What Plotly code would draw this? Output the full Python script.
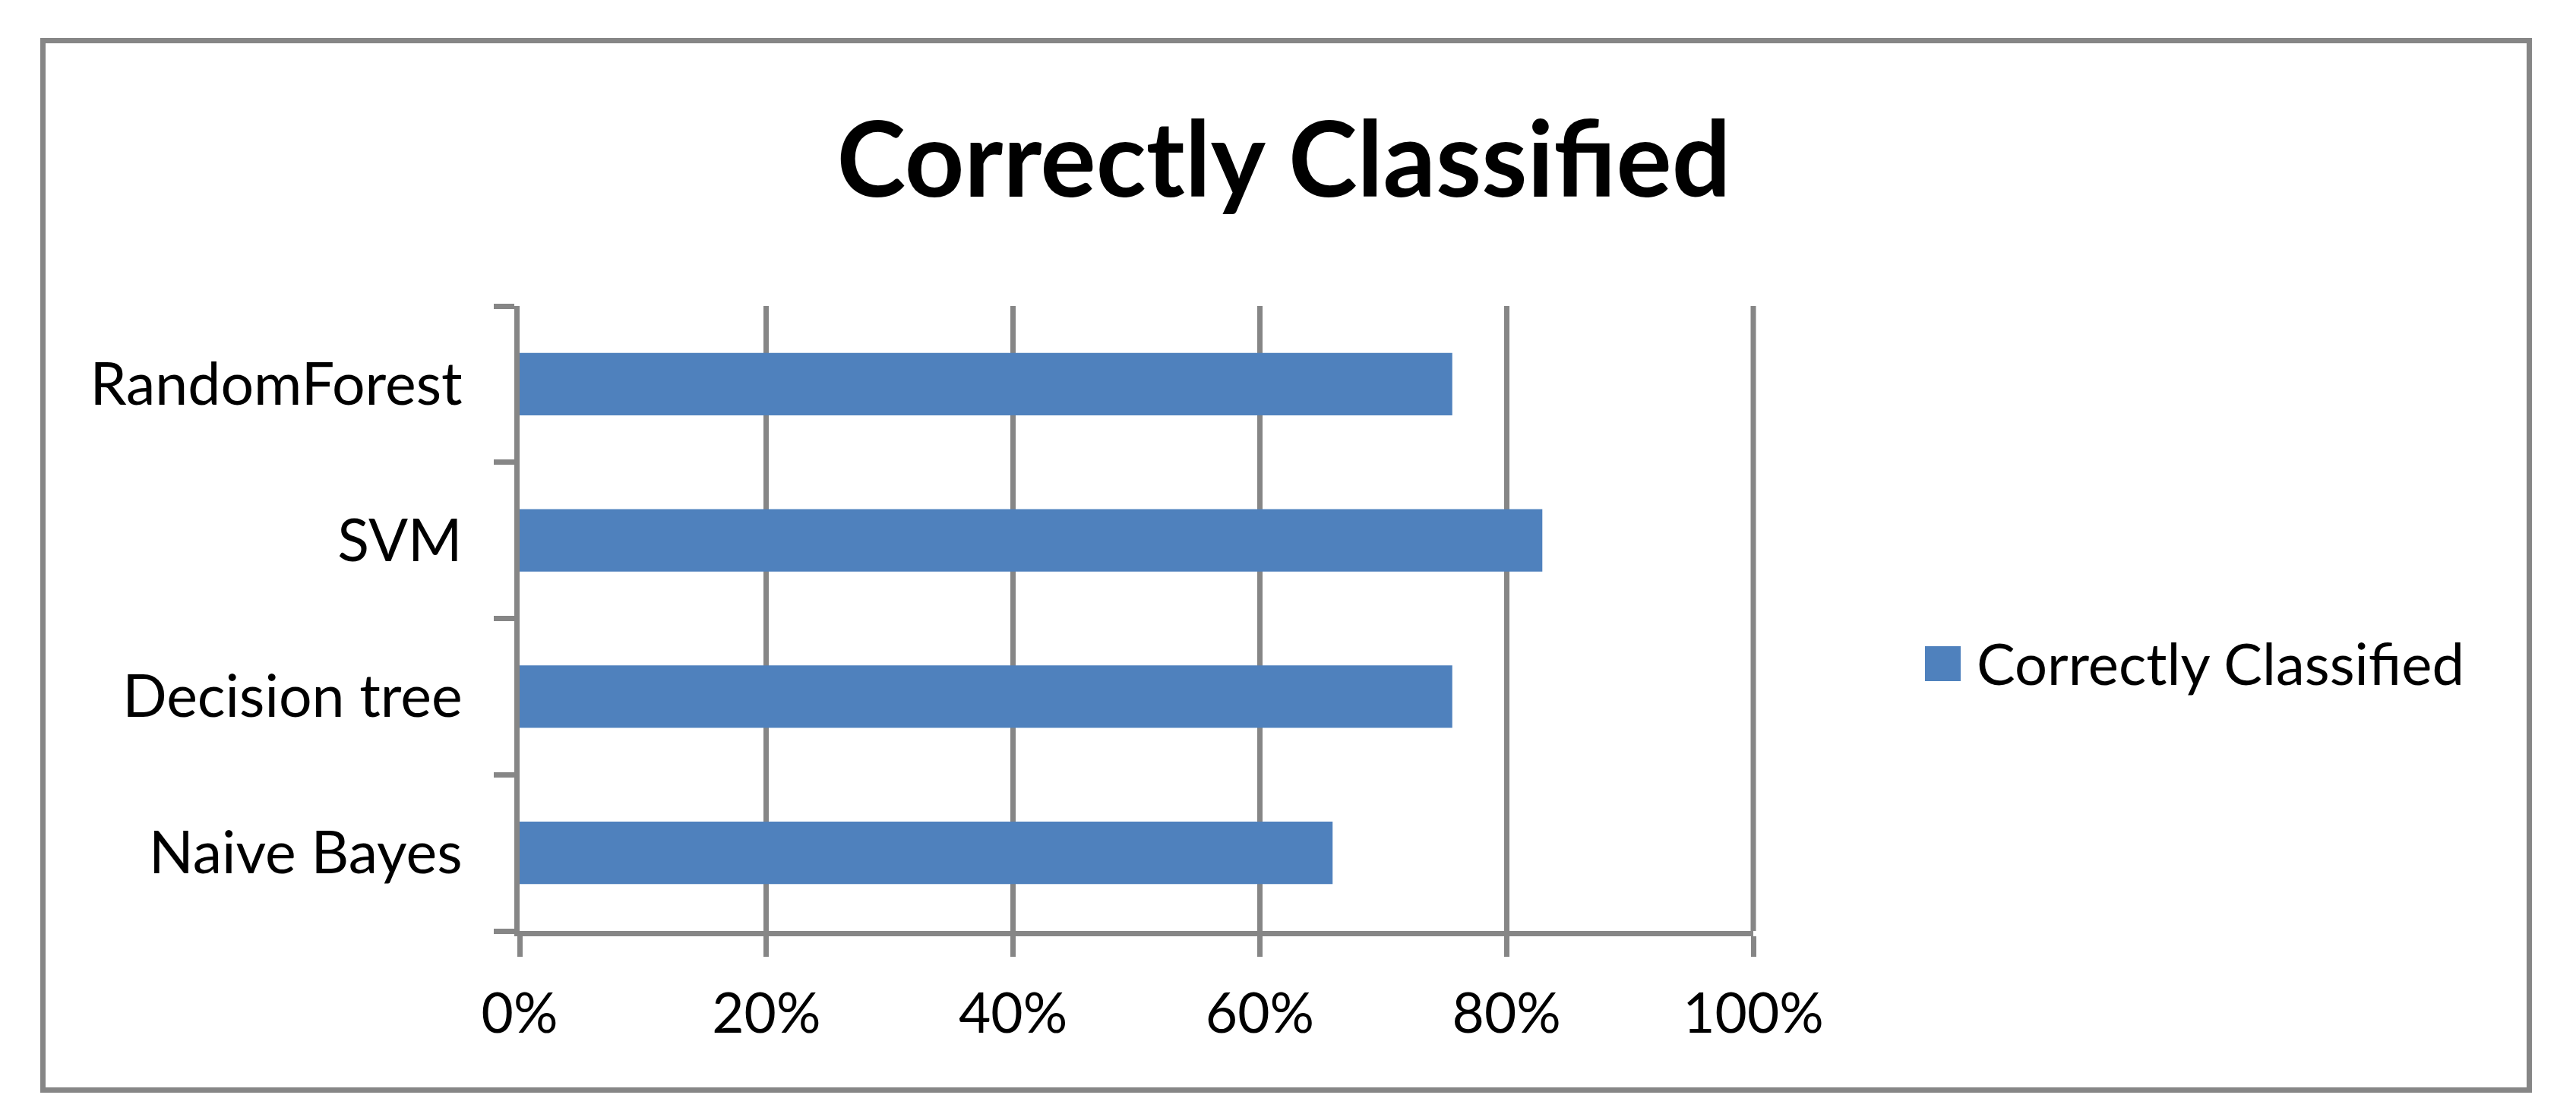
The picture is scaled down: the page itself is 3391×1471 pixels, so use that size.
import plotly.graph_objects as go

# data
models = ["Naive Bayes", "Decision tree", "SVM", "RandomForest"]
correct = [65.9, 75.6, 82.9, 75.6]
series_name = "Correctly Classified"
x_ticks = [0, 20, 40, 60, 80, 100]
x_labels = [f"{v}%" for v in x_ticks]
x_range = [0, 100]

# page body adds an 8px margin, so the figure is made smaller and shifted
OFF = 8
W, H = 3391 - 2 * OFF, 1471 - 2 * OFF
ML, MT = 684 - OFF, 403 - OFF
MR, MB = W - (2308 - OFF), H - (1226 - OFF)
GRAY = "#868686"
BLUE = "#4F81BD"
FONT = "Lato"


def px_x(p):
    return (p - OFF - ML) / (W - ML - MR)


def px_y(p):
    return (H - MB - (p - OFF)) / (H - MT - MB)


fig = go.Figure()
fig.add_trace(go.Bar(
    x=correct,
    y=models,
    orientation="h",
    name=series_name,
    marker=dict(color=BLUE, line=dict(width=0)),
    showlegend=False,
))

fig.update_layout(
    width=W,
    height=H,
    margin=dict(l=ML, r=MR, t=MT, b=MB),
    paper_bgcolor="white",
    plot_bgcolor="white",
    bargap=0.6,
    font=dict(family=FONT, color="black"),
    title=dict(
        text=series_name,
        x=(1690 - OFF) / W,
        xanchor="center",
        y=1 - (211 - OFF) / H,
        yanchor="middle",
        font=dict(family=FONT, size=137, weight="bold", color="black"),
    ),
    xaxis=dict(
        range=x_range,
        tickvals=x_ticks,
        ticktext=x_labels,
        showgrid=True,
        gridcolor=GRAY,
        gridwidth=7,
        zeroline=False,
        showline=True,
        linecolor=GRAY,
        linewidth=7,
        ticks="outside",
        ticklen=27,
        tickwidth=7,
        tickcolor=GRAY,
        ticklabelstandoff=12,
        tickfont=dict(family=FONT, size=73, color="black"),
        automargin=False,
    ),
    yaxis=dict(
        type="category",
        categoryorder="array",
        categoryarray=models,
        tickson="boundaries",
        showgrid=False,
        zeroline=False,
        showline=True,
        linecolor=GRAY,
        linewidth=7,
        ticks="outside",
        ticklen=27,
        tickwidth=7,
        tickcolor=GRAY,
        ticklabelstandoff=53,
        tickfont=dict(family=FONT, size=77, color="black"),
        automargin=False,
    ),
)

# plotly drops the gridline at the far edge; put the 100% line back
# (paper refs so it is not clipped to half width at the plot edge)
edge = (x_ticks[-1] - x_range[0]) / (x_range[1] - x_range[0])
fig.add_shape(
    type="line", xref="paper", yref="paper",
    x0=edge, x1=edge, y0=0, y1=1,
    line=dict(color=GRAY, width=7), layer="below",
)

# legend drawn by hand so the swatch can match the original size
fig.add_shape(
    type="rect", xref="paper", yref="paper",
    x0=px_x(2534), x1=px_x(2581), y0=px_y(897), y1=px_y(851),
    fillcolor=BLUE, line=dict(width=0),
)
fig.add_annotation(
    text=series_name, xref="paper", yref="paper",
    x=px_x(2600), y=px_y(872), xanchor="left", yanchor="middle",
    showarrow=False, font=dict(family=FONT, size=76, color="black"),
)

# outer chart border
fig.add_shape(
    type="rect", xref="paper", yref="paper",
    x0=px_x(56.5), x1=px_x(3329.5), y0=px_y(1435.5), y1=px_y(53.5),
    line=dict(color=GRAY, width=7), fillcolor="rgba(0,0,0,0)", layer="below",
)

fig.write_html("out.html")
